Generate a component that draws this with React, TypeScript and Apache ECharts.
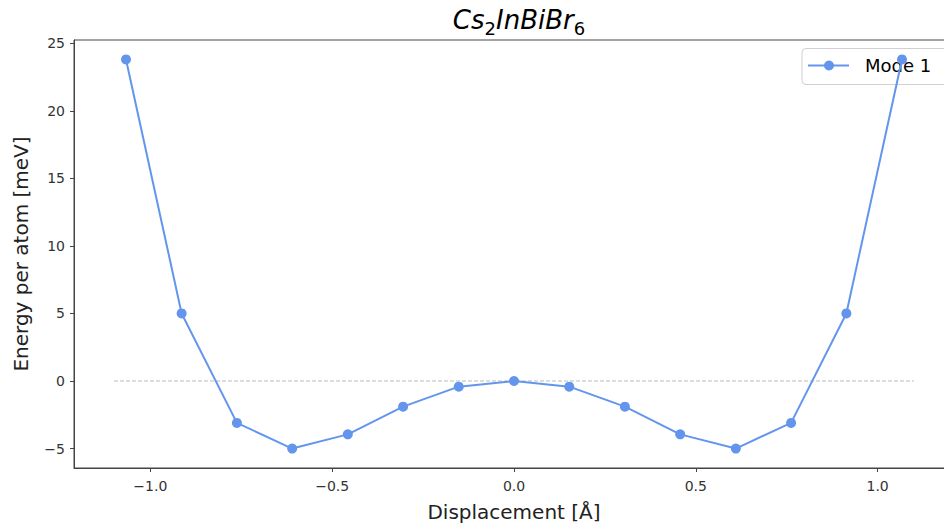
import React, { useEffect, useRef } from "react";
import * as echarts from "echarts";

const displacement = [-1.067, -0.914, -0.762, -0.61, -0.457, -0.305, -0.152, 0.0, 0.152, 0.305, 0.457, 0.61, 0.762, 0.914, 1.067];
const energy = [23.8, 5.0, -3.1, -5.0, -3.95, -1.9, -0.42, 0.0, -0.42, -1.9, -3.95, -5.0, -3.1, 5.0, 23.8];
const refLineX = [-1.1, 1.1];
const refLineY = [0, 0];
const xTicks = [-1.0, -0.5, 0.0, 0.5, 1.0];
const yTicks = [-5, 0, 5, 10, 15, 20, 25];
const seriesName = "Mode 1";

const FONT = "DejaVu Sans";
const fmtMinus = (s: string) => s.replace("-", "\u2212");

export default function App() {
  const ref = useRef<HTMLDivElement>(null);
  useEffect(() => {
    document.body.style.margin = "0";
    const chart = echarts.init(ref.current!, null, { renderer: "svg" });
    const color = "#6495ED";
    chart.setOption({
      animation: false,
      backgroundColor: "#fff",
      textStyle: { fontFamily: FONT },
      title: {
        text: "{m|Cs}{s|2}{m|InBiBr}{s|6}",
        left: 514,
        textAlign: "center",
        top: -2,
        textStyle: {
          fontWeight: "normal",
          rich: {
            m: { fontSize: 26, fontStyle: "italic", fontWeight: "normal", fontFamily: FONT, color: "#000", lineHeight: 34 },
            s: { fontSize: 18, fontWeight: "normal", fontFamily: FONT, color: "#000", lineHeight: 26, verticalAlign: "bottom" },
          },
        },
      },
      grid: {
        left: 74,
        top: 40,
        width: 880,
        height: 428,
        outerBoundsMode: "none",
        containLabel: false,
        show: true,
        borderColor: "#444",
        borderWidth: 1,
      },
      xAxis: {
        type: "value",
        min: -1.21,
        max: 1.21,
        name: "Displacement [\u00C5]",
        nameLocation: "middle",
        nameGap: 34,
        nameMoveOverlap: false,
        nameTextStyle: { fontSize: 20, color: "#222", fontFamily: FONT },
        axisLine: { show: true, onZero: false, lineStyle: { color: "#444", width: 1 } },
        axisTick: { show: true, length: 4, inside: false, customValues: xTicks, lineStyle: { color: "#444" } },
        axisLabel: {
          customValues: xTicks,
          margin: 11,
          fontSize: 14,
          color: "#333",
          fontFamily: FONT,
          formatter: (v: number) => fmtMinus(v.toFixed(1)),
        },
        splitLine: { show: false },
      },
      yAxis: {
        type: "value",
        min: -6.44,
        max: 25.24,
        name: "Energy per atom [meV]",
        nameLocation: "middle",
        nameGap: 43,
        nameMoveOverlap: false,
        nameTextStyle: { fontSize: 20, color: "#222", fontFamily: FONT },
        axisLine: { show: true, onZero: false, lineStyle: { color: "#444", width: 1 } },
        axisTick: { show: true, length: 4, inside: false, customValues: yTicks, lineStyle: { color: "#444" } },
        axisLabel: {
          customValues: yTicks,
          margin: 9,
          fontSize: 14,
          color: "#333",
          fontFamily: FONT,
          formatter: (v: number) => fmtMinus(String(Math.round(v))),
        },
        splitLine: { show: false },
      },
      series: [
        {
          name: "ref",
          type: "line",
          data: refLineX.map((x, i) => [x, refLineY[i]]),
          symbol: "none",
          lineStyle: { color: "#bbbbbb", width: 1, type: [4, 2] },
          silent: true,
          z: 1,
        },
        {
          name: seriesName,
          type: "line",
          data: displacement.map((x, i) => [x, energy[i]]),
          symbol: "circle",
          symbolSize: 10,
          itemStyle: { color },
          lineStyle: { color, width: 2 },
          z: 2,
        },
      ],
      graphic: [
        {
          type: "group",
          z: 100,
          children: [
            {
              type: "rect",
              shape: { x: 802, y: 48.5, width: 160, height: 36, r: 4 },
              style: { fill: "rgba(255,255,255,0.8)", stroke: "#d0d0d0", lineWidth: 1 },
            },
            {
              type: "line",
              shape: { x1: 808, y1: 65.5, x2: 849, y2: 65.5 },
              style: { stroke: color, lineWidth: 2 },
            },
            {
              type: "circle",
              shape: { cx: 829, cy: 65.5, r: 5 },
              style: { fill: color },
            },
            {
              type: "text",
              x: 865,
              y: 65.5,
              style: {
                text: seriesName,
                fontSize: 18,
                fontFamily: FONT,
                fill: "#000",
                verticalAlign: "middle",
                align: "left",
              },
            },
          ],
        },
      ],
    });
    return () => chart.dispose();
  }, []);
  return <div ref={ref} style={{ width: 944, height: 524 }} />;
}
